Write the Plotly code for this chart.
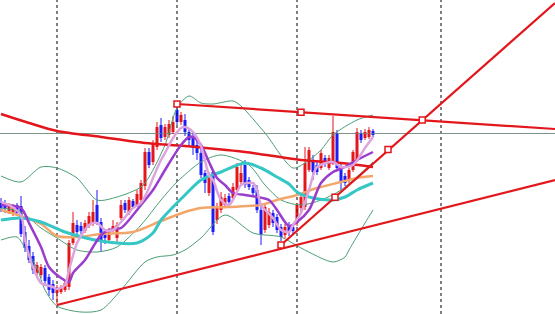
import plotly.graph_objects as go

# ---- candle data (bar index, price units) ----
bars = list(range(94))
opens = [197,196,188,186,195,194,168,154,144,127,
         125,132,123,116,107,108,110,113,157,175,
         174,169,174,176,195,178,168,160,171,162,
         182,197,187,199,195,200,214,248,238,253,
         275,263,265,268,290,278,280,268,263,255,
         247,227,207,228,180,190,195,204,202,210,
         218,235,220,212,210,190,170,175,187,183,
         173,165,175,173,177,192,193,230,240,235,
         232,242,232,237,267,233,224,220,230,240,
         267,262,263,269]
highs = [202,200,197,196,197,204,174,160,148,138,
         136,135,126,120,115,115,120,160,188,180,
         178,180,188,200,210,182,171,172,180,178,
         200,200,203,201,210,220,252,252,260,278,
         282,276,280,284,296,288,286,272,268,260,
         252,230,228,230,197,208,206,207,217,237,
         237,240,223,215,215,195,197,192,190,186,
         176,176,178,176,197,207,253,253,245,238,
         250,245,245,284,270,237,227,232,250,272,
         270,271,273,271]
lows = [188,187,186,184,184,163,148,137,126,124,
        122,115,104,100,96,106,108,110,155,164,
        166,167,172,174,175,148,156,157,168,158,
        180,187,185,191,193,196,210,232,235,250,
        258,260,262,266,275,275,264,253,245,240,
        222,207,204,165,176,187,192,195,200,208,
        215,212,210,204,187,155,167,172,173,167,
        159,162,164,166,174,186,190,228,220,225,
        230,233,230,235,230,210,214,217,228,238,
        257,260,261,263]
closes = [192,191,195,193,187,166,152,140,130,135,
          133,119,110,107,111,113,117,157,177,168,
          169,177,184,188,178,160,162,169,174,175,
          195,190,200,193,206,217,248,235,257,273,
          262,273,276,278,278,285,268,260,252,247,
          225,217,223,168,193,203,202,198,213,233,
          227,215,213,207,190,165,193,188,177,170,
          163,173,168,169,195,203,237,250,228,228,
          247,237,242,268,232,217,217,230,248,268,
          260,268,270,265]

# ---- indicators (bar index, value) ----
fast_x = [0,2,5,6,8,10,13,14,16,17,19,20,22,24,26,28,30,33,35,37,38,40,41,43,45,46,48,50,52,53,55,57,59,60,63,64,65,68,70,72,73,75,77,79,83,85,88,91,93]
fast_y = [198,195,185,160,133,117,113,111,115,130,157,164,175,177,170,170,178,192,197,212,222,240,247,262,272,273,268,254,225,220,200,195,208,215,217,210,195,182,170,168,175,187,210,233,238,233,235,252,263]
slow_x = [0,5,7,10,12,15,17,18,21,23,25,27,30,32,35,38,41,45,47,48,50,52,54,56,58,61,64,67,69,72,74,77,80,83,86,89,93]
slow_y = [195,192,177,153,133,122,118,127,140,153,165,170,172,180,195,210,230,255,263,263,255,238,222,215,207,205,203,200,190,174,178,190,217,228,233,240,248]
cyan_x = [0,5,10,16,25,34,38,40,43,46,50,55,61,65,69,72,74,78,83,86,89,93]
cyan_y = [180,182,178,168,159,157,167,180,193,205,220,228,237,232,223,216,208,202,200,203,210,217]
orange_x = [0,5,10,14,19,25,33,40,46,50,57,65,69,74,79,85,89,93]
orange_y = [190,184,176,164,163,166,168,179,188,192,193,195,200,205,212,218,222,224]
ma200_x = [0,7,14,25,36,46,61,75,85,93]
ma200_y = [286,277,269,263,257,254,248,240,237,233]
bbu_x = [0,5,10,14,19,24,29,35,37,41,44,47,50,53,58,60,66,73,76,80,83,89,93]
bbu_y = [224,218,233,232,222,200,203,213,223,255,292,304,297,296,299,294,267,232,237,250,265,280,285]
bbm_x = [0,5,10,14,19,24,29,35,40,44,50,55,62,66,70,75,80,85,93]
bbm_y = [192,188,172,162,150,148,153,175,200,218,238,245,235,215,200,195,200,210,238]
bbl_x = [0,4,6,9,11,14,20,25,30,36,39,43,46,50,56,63,70,75,83,86,87,91,93]
bbl_y = [160,163,152,132,110,94,88,90,110,138,143,145,150,162,185,167,163,152,138,143,150,177,190]

# ---- drawn objects ----
upper_tl_x = [44, 138.5]
upper_tl_y = [296, 271]
lower_tl_x = [14, 138.5]
lower_tl_y = [95, 220]
steep_tl_x = [70, 138.5]
steep_tl_y = [155, 397]
square_x = [44, 75, 105.3, 70, 83.5, 96.75]
square_y = [296, 287.8, 280, 155, 202.7, 250.6]
sep_bars = [14, 44, 74, 110]
level_price = 266.5

Y_MIN, Y_MAX = 86, 400
X_MIN, X_MAX = -0.25, 138.5

RED = "#e3161c"
BLUE = "#1c1cf5"

fig = go.Figure()

for b in sep_bars:
    fig.add_trace(go.Scatter(x=[b, b], y=[Y_MIN, Y_MAX], mode="lines",
                             line=dict(color="black", width=1, dash="3px,3px")))

fig.add_trace(go.Scatter(x=[X_MIN, X_MAX], y=[level_price, level_price], mode="lines",
                         line=dict(color="#7f9488", width=1)))

# candles: wicks + bodies, split by direction
for up, color in [(True, RED), (False, BLUE)]:
    wx, wy, bx, bb, bh = [], [], [], [], []
    for i, o, h, l, c in zip(bars, opens, highs, lows, closes):
        if (c >= o) != up:
            continue
        wx += [i, i, None]
        wy += [l, h, None]
        bx.append(i)
        bb.append(min(o, c))
        bh.append(max(abs(c - o), 0.8))
    fig.add_trace(go.Scatter(x=wx, y=wy, mode="lines", line=dict(color=color, width=1)))
    fig.add_trace(go.Bar(x=bx, y=bh, base=bb, width=0.75, marker=dict(color=color, line=dict(width=0))))

def add_line(xs, ys, color, width):
    fig.add_trace(go.Scatter(x=xs, y=ys, mode="lines",
                             line=dict(color=color, width=width, shape="spline", smoothing=0.8)))

GREEN = "#4c9e74"
add_line(bbu_x, bbu_y, GREEN, 1)
add_line(bbm_x, bbm_y, GREEN, 1)
add_line(bbl_x, bbl_y, GREEN, 1)
add_line(ma200_x, ma200_y, RED, 2.5)
add_line(orange_x, orange_y, "#f2a66a", 2.5)
add_line(cyan_x, cyan_y, "#35c6c6", 3)
add_line(slow_x, slow_y, "#9a3dcc", 2.5)
add_line(fast_x, fast_y, "#dea2de", 2.5)

for xs, ys in [(upper_tl_x, upper_tl_y), (lower_tl_x, lower_tl_y), (steep_tl_x, steep_tl_y)]:
    fig.add_trace(go.Scatter(x=xs, y=ys, mode="lines", line=dict(color=RED, width=2.2)))

fig.add_trace(go.Scatter(x=square_x, y=square_y, mode="markers",
                         marker=dict(symbol="square", size=6, color="white",
                                     line=dict(color=RED, width=1.5))))

fig.update_layout(width=555, height=314, margin=dict(l=0, r=0, t=0, b=0),
                  paper_bgcolor="white", plot_bgcolor="white", showlegend=False,
                  barmode="overlay")
fig.update_xaxes(range=[X_MIN, X_MAX], visible=False, showgrid=False, fixedrange=True)
fig.update_yaxes(range=[Y_MIN, Y_MAX], visible=False, showgrid=False, fixedrange=True)

fig.write_html("out.html")
